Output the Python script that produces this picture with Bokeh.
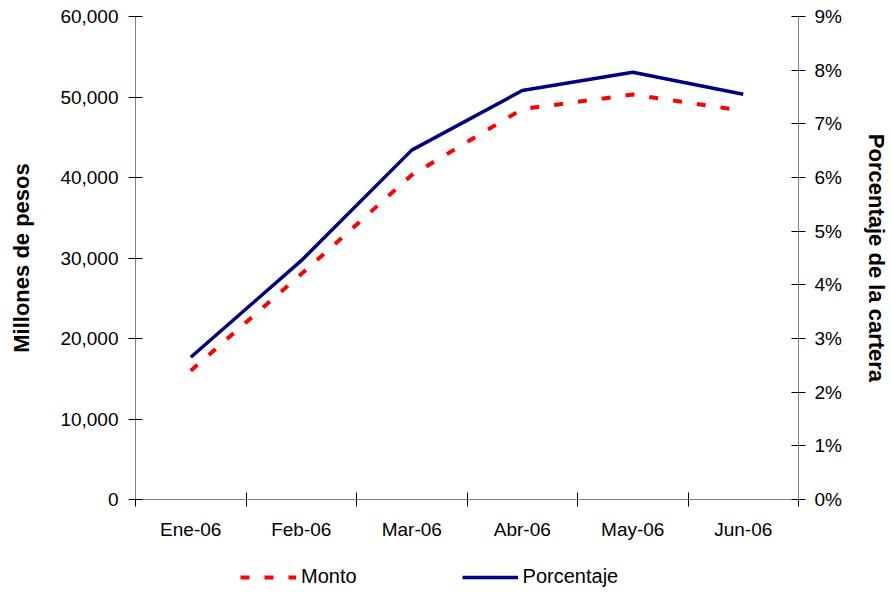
from bokeh.plotting import figure
from bokeh.layouts import column
from bokeh.models import (Range1d, LinearAxis, FixedTicker, NumeralTickFormatter,
                          Legend, LegendItem, ColumnDataSource)
from bokeh.embed import file_html
from bokeh.resources import INLINE

categories = ["Ene-06", "Feb-06", "Mar-06", "Abr-06", "May-06", "Jun-06"]
monto = [16000, 28000, 40300, 48500, 50300, 48300]          # millones de pesos
porcentaje = [2.65, 4.45, 6.51, 7.62, 7.96, 7.55]           # % de la cartera
left_ticks = [0, 10000, 20000, 30000, 40000, 50000, 60000]
right_ticks = [0, 1, 2, 3, 4, 5, 6, 7, 8, 9]
series_names = ["Monto", "Porcentaje"]

xs = [i + 0.5 for i in range(len(categories))]
bounds = list(range(len(categories) + 1))

src = ColumnDataSource(dict(x=xs, monto=monto, pct=porcentaje))

FONT = "Liberation Sans"
TICK_SIZE = "19px"
RED = "#FF0000"
NAVY = "#000080"
RED_DASH = "9 15"

p = figure(width=891, height=560, output_backend="svg", toolbar_location=None,
           x_range=Range1d(0, len(categories)), y_range=Range1d(0, 60000),
           min_border_left=135, min_border_right=89, min_border_top=16,
           min_border_bottom=61)
p.extra_y_ranges = {"pct": Range1d(0, 9)}
p.outline_line_color = None
p.xgrid.visible = False
p.ygrid.visible = False
p.background_fill_color = "white"
p.border_fill_color = "white"

p.line("x", "monto", source=src, line_color=RED, line_width=4, line_dash=RED_DASH)
p.line("x", "pct", source=src, y_range_name="pct", line_color=NAVY, line_width=3.5)

# x axis
xa = p.xaxis[0]
xa.ticker = FixedTicker(ticks=xs, minor_ticks=bounds)
xa.major_label_overrides = {x: c for x, c in zip(xs, categories)}
xa.major_tick_in = 0
xa.major_tick_out = 0
xa.minor_tick_in = 7
xa.minor_tick_out = 7
xa.minor_tick_line_color = "black"
xa.axis_line_color = "#808080"
xa.major_label_text_font = FONT
xa.major_label_text_font_size = TICK_SIZE
xa.major_label_text_color = "black"
xa.major_label_standoff = 12

# left axis
ya = p.yaxis[0]
ya.ticker = FixedTicker(ticks=left_ticks)
ya.formatter = NumeralTickFormatter(format="0,0")
ya.major_tick_in = 7
ya.major_tick_out = 7
ya.minor_tick_line_color = None
ya.major_tick_line_color = "black"
ya.axis_line_color = "#808080"
ya.major_label_text_font = FONT
ya.major_label_text_font_size = TICK_SIZE
ya.major_label_text_color = "black"
ya.major_label_standoff = 10
ya.axis_label = "Millones de pesos"
ya.axis_label_text_font = FONT
ya.axis_label_text_font_size = "22px"
ya.axis_label_text_font_style = "bold"
ya.axis_label_text_color = "black"
ya.axis_label_standoff = 23

# right axis
ra = LinearAxis(y_range_name="pct", ticker=FixedTicker(ticks=right_ticks))
ra.major_label_overrides = {t: f"{t}%" for t in right_ticks}
ra.major_tick_in = 7
ra.major_tick_out = 7
ra.minor_tick_line_color = None
ra.major_tick_line_color = "black"
ra.axis_line_color = "#808080"
ra.major_label_text_font = FONT
ra.major_label_text_font_size = TICK_SIZE
ra.major_label_text_color = "black"
ra.major_label_standoff = 9
ra.axis_label = "Porcentaje de la cartera"
ra.axis_label_text_font = FONT
ra.axis_label_text_font_size = "22px"
ra.axis_label_text_font_style = "bold"
ra.axis_label_text_color = "black"
ra.axis_label_standoff = 19
p.add_layout(ra, "right")

# legend strip under the chart (series drawn out of view, only samples show)
lg = figure(width=891, height=32, output_backend="svg", toolbar_location=None,
            x_range=Range1d(0, 1), y_range=Range1d(-2, -1),
            min_border_left=0, min_border_right=0, min_border_top=0,
            min_border_bottom=0)
lg.axis.visible = False
lg.grid.visible = False
lg.outline_line_color = None
l1 = lg.line("x", "monto", source=src, line_color=RED, line_width=4, line_dash=RED_DASH)
l2 = lg.line("x", "pct", source=src, line_color=NAVY, line_width=3.5)
legend = Legend(items=[LegendItem(label=series_names[0], renderers=[l1]),
                       LegendItem(label=series_names[1], renderers=[l2])],
                orientation="horizontal", location=(105, 4),
                glyph_width=56, glyph_height=20, label_standoff=5, spacing=105,
                padding=0, margin=0, border_line_color=None,
                background_fill_alpha=0,
                label_text_font=FONT, label_text_font_size="20px",
                label_text_color="black")
lg.add_layout(legend, "center")

open("out.html", "w").write(file_html(column(p, lg, spacing=0), INLINE))
